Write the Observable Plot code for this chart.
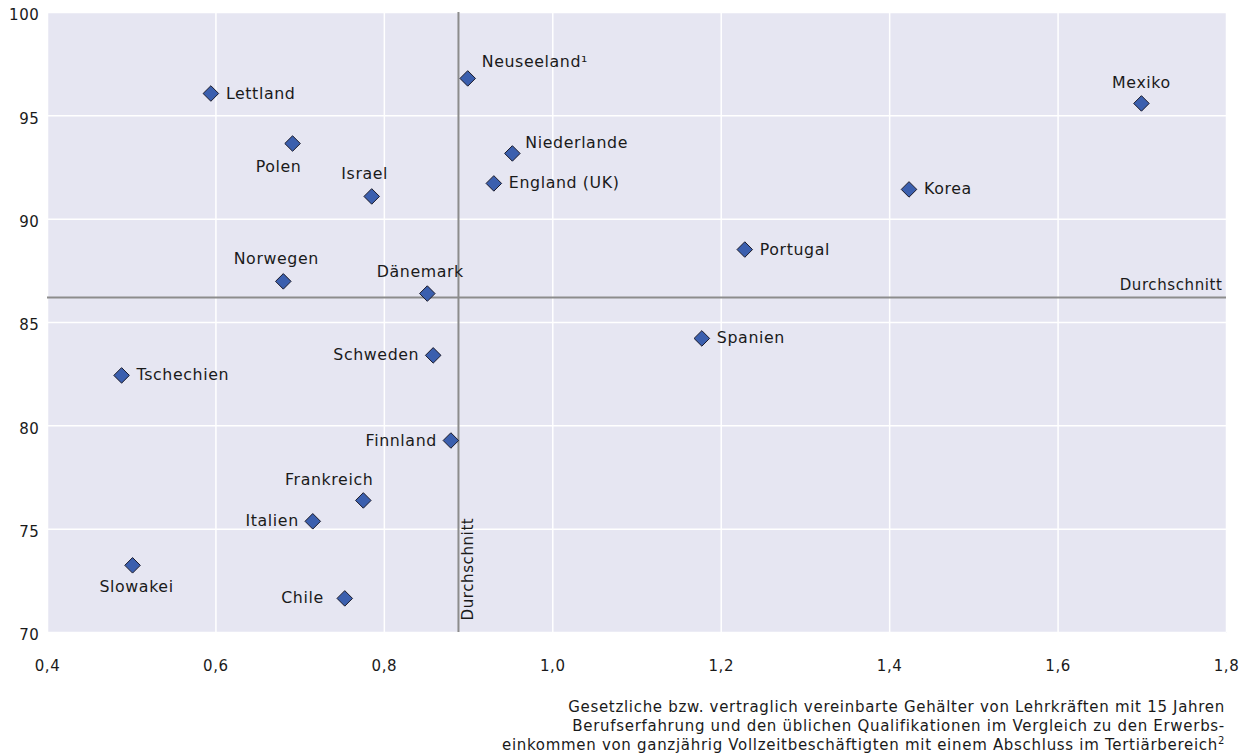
<!DOCTYPE html>
<html>
<head>
<meta charset="utf-8">
<script src="https://cdn.jsdelivr.net/npm/d3@7"></script>
<script src="https://cdn.jsdelivr.net/npm/@observablehq/plot@0.6"></script>
<style>
  body { margin: 0; background: #ffffff; font-family: "DejaVu Sans", sans-serif; }
  #caption { text-align: right; font-size: 15px; line-height: 19px; color: #1a1a1a; padding-right: 20px; margin-top: 13px; letter-spacing: 0.7px; }
</style>
</head>
<body>
<div id="chart"></div>
<div id="caption">Gesetzliche bzw. vertraglich vereinbarte Gehälter von Lehrkräften mit 15 Jahren<br>Berufserfahrung und den üblichen Qualifikationen im Vergleich zu den Erwerbs-<br>einkommen von ganzjährig Vollzeitbeschäftigten mit einem Abschluss im Tertiärbereich<sup style="font-size:10px;line-height:0">2</sup></div>
<script>
const countries = ["Lettland","Neuseeland¹","Mexiko","Polen","Niederlande","Israel","England (UK)","Korea","Portugal","Norwegen","Dänemark","Spanien","Schweden","Tschechien","Finnland","Frankreich","Italien","Slowakei","Chile"];
const salaryRatio = [0.594,0.899,1.699,0.691,0.952,0.785,0.930,1.423,1.228,0.680,0.851,1.177,0.858,0.488,0.879,0.775,0.715,0.501,0.753];
const shareValue = [96.08,96.81,95.60,93.66,93.18,91.10,91.73,91.44,88.53,86.99,86.40,84.23,83.41,82.44,79.29,76.39,75.38,73.25,71.65];
const labelSide = ["right","aboveRight","above","belowLeft","upRight","aboveLeft","right","right","right","aboveLeft","aboveLeft","right","left","right","left","aboveEnd","left","below","leftFar"];
const xTicks = [0.4,0.6,0.8,1.0,1.2,1.4,1.6,1.8];
const yTicks = [70,75,80,85,90,95,100];
const avgX = 0.888;
const avgY = 86.21;
const avgLabel = "Durchschnitt";

const data = countries.map((c, i) => ({country: c, x: salaryRatio[i], y: shareValue[i], side: labelSide[i]}));
const fmt = v => v.toFixed(1).replace(".", ",");

const placements = {
  right: {dx: 15, dy: 0, anchor: "start"},
  left: {dx: -14, dy: 0, anchor: "end"},
  leftFar: {dx: -21, dy: 0, anchor: "end"},
  above: {dx: 0, dy: -20, anchor: "middle"},
  below: {dx: 4, dy: 22, anchor: "middle"},
  aboveRight: {dx: 14, dy: -16, anchor: "start"},
  upRight: {dx: 13, dy: -11, anchor: "start"},
  aboveLeft: {dx: -7, dy: -22, anchor: "middle"},
  aboveEnd: {dx: 10, dy: -21, anchor: "end"},
  belowLeft: {dx: -14, dy: 23, anchor: "middle"}
};
const labelMarks = Object.entries(placements).map(([k, p]) => Plot.text(data.filter(d => d.side === k), {
  x: "x", y: "y", text: "country", dx: p.dx, dy: p.dy, textAnchor: p.anchor,
  fontSize: 15.8, fill: "#1a1a1a"
}));

const chart = Plot.plot({
  width: 1245,
  height: 685,
  marginTop: 12,
  marginBottom: 53,
  marginLeft: 47,
  marginRight: 19,
  style: {fontFamily: "DejaVu Sans, sans-serif", fontSize: "15px", color: "#1a1a1a", background: "#ffffff", letterSpacing: "0.6px"},
  x: {domain: [0.4, 1.8], ticks: xTicks, tickFormat: fmt},
  y: {domain: [70, 100], ticks: yTicks},
  marks: [
    Plot.frame({fill: "#e6e6f2", stroke: null}),
    Plot.gridX(xTicks, {stroke: "#ffffff", strokeOpacity: 1, strokeWidth: 1.5}),
    Plot.gridY(yTicks, {stroke: "#ffffff", strokeOpacity: 1, strokeWidth: 1.5}),
    Plot.ruleX([avgX], {stroke: "#8c8c8c", strokeWidth: 2}),
    Plot.ruleY([avgY], {stroke: "#8c8c8c", strokeWidth: 2}),
    Plot.text([avgLabel], {x: avgX, y: 70, rotate: -90, textAnchor: "start", dx: 10, dy: -12, fontSize: 15, fill: "#1a1a1a"}),
    Plot.text([avgLabel], {x: 1.8, y: avgY, textAnchor: "end", dx: -4, dy: -12, fontSize: 15, fill: "#1a1a1a"}),
    Plot.axisX({ticks: xTicks, tickFormat: fmt, tickSize: 0, tickPadding: 28, label: null, fontSize: 15}),
    Plot.axisY({ticks: yTicks, tickSize: 0, tickPadding: 8, dy: 3, label: null, fontSize: 15}),
    Plot.dot(data, {x: "x", y: "y", symbol: "diamond2", r: 7, fill: "#3b5fae", stroke: "#1b1b2b", strokeWidth: 1}),
    ...labelMarks
  ]
});
document.getElementById("chart").appendChild(chart);
</script>
</body>
</html>
